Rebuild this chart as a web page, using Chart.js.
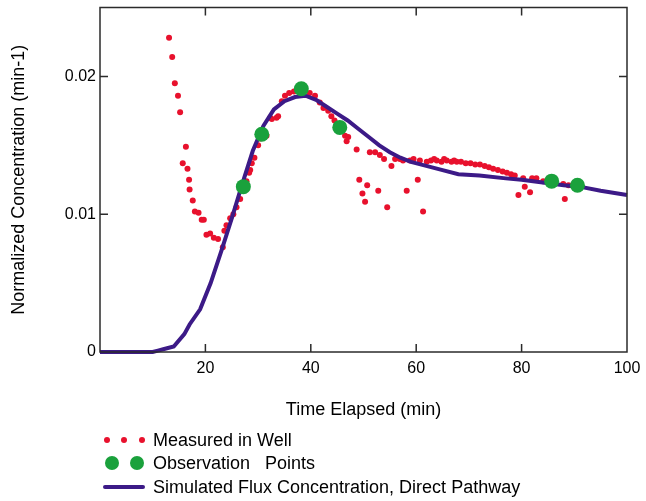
<!DOCTYPE html>
<html>
<head>
<meta charset="utf-8">
<script src="https://cdn.jsdelivr.net/npm/chart.js@4.4.1/dist/chart.umd.min.js"></script>
<style>
  body { margin: 0; background: #fff; font-family: "Liberation Sans", Arial, sans-serif; }
  #wrap { position: relative; width: 646px; height: 425px; }
  .leg { position: absolute; left: 0; top: 0; width: 646px; height: 501px; pointer-events: none; }
  .row { position: absolute; left: 153px; font-size: 18px; color: #000; white-space: pre; line-height: 22px; }
  .dot { position: absolute; border-radius: 50%; }
  .sm { width: 6px; height: 6px; background: #e8112d; }
  .big { width: 14px; height: 14px; background: #1aa13c; }
  .bar { position: absolute; height: 4px; background: #3c1a87; border-radius: 2px; }
</style>
</head>
<body>
<div id="wrap"><canvas id="grafico"></canvas></div>
<div class="leg">
  <span class="dot sm" style="left:104px;top:437px"></span>
  <span class="dot sm" style="left:121px;top:437px"></span>
  <span class="dot sm" style="left:139px;top:437px"></span>
  <div class="row" style="top:429px">Measured in Well</div>
  <span class="dot big" style="left:105px;top:456px"></span>
  <span class="dot big" style="left:130px;top:456px"></span>
  <div class="row" style="top:452px">Observation   Points</div>
  <span class="bar" style="left:103px;top:485px;width:42px"></span>
  <div class="row" style="top:476px">Simulated Flux Concentration, Direct Pathway</div>
</div>
<script>
// measured in well (red dots)
const medidoT = [13.1, 13.7, 14.2, 14.8, 15.2, 16.3, 15.7, 16.6, 16.9, 17.0, 17.6, 18.0, 18.7, 19.3, 19.7,
  20.2, 20.9, 21.6, 22.4, 23.3, 23.6, 24.0, 24.7, 25.3, 25.9, 26.6, 27.8, 28.3, 28.5, 28.8, 29.3,
  30.0, 30.4, 31.6, 32.3, 32.6, 33.5, 33.8, 34.5, 35.1, 35.9, 36.8, 37.5, 39.8, 40.8, 41.7, 42.4,
  43.3, 43.9, 44.5, 46.5, 46.8, 47.1, 48.7, 49.2, 49.8, 50.3, 50.7, 51.2, 52.2, 52.8, 53.1, 53.9,
  54.5, 55.3, 56.0, 56.9, 57.5, 58.2, 58.8, 59.5, 60.3, 60.7, 61.3, 62.0, 62.8, 63.4, 63.9, 64.8,
  65.3, 65.8, 66.7, 67.2, 67.7, 68.5, 69.4, 70.3, 71.2, 72.1, 73.0, 73.8, 74.6, 75.5, 76.4, 77.2,
  78.0, 78.7, 79.4, 80.3, 80.6, 81.6, 82.0, 82.8, 84.1, 86.0, 87.9, 88.2, 88.9];
const medidoC = [0.0228, 0.0214, 0.0195, 0.0186, 0.0174, 0.0149, 0.0137, 0.0133, 0.0125, 0.0118, 0.0110, 0.0102, 0.0101, 0.0096, 0.0096,
  0.0085, 0.0086, 0.0083, 0.0082, 0.0076, 0.0088, 0.0092, 0.0097, 0.0100, 0.0105, 0.0111, 0.0124, 0.0130, 0.0132, 0.0137, 0.0141,
  0.0150, 0.0155, 0.0157, 0.0170, 0.0169, 0.0170, 0.0171, 0.0182, 0.0186, 0.0188, 0.0189, 0.0190, 0.0188, 0.0186, 0.0181, 0.0177,
  0.0175, 0.0171, 0.0168, 0.0157, 0.0153, 0.0156, 0.0147, 0.0125, 0.0115, 0.0109, 0.0121, 0.0145, 0.0145, 0.0117, 0.0143, 0.0140,
  0.0105, 0.0135, 0.0140, 0.0140, 0.0139, 0.0117, 0.0139, 0.0140, 0.0125, 0.0139, 0.0102, 0.0138, 0.0139, 0.0140, 0.0139, 0.0138,
  0.0140, 0.0139, 0.0138, 0.0139, 0.0138, 0.0138, 0.0137, 0.0137, 0.0136, 0.0136, 0.0135, 0.0134, 0.0133, 0.0132, 0.0131, 0.0130,
  0.0129, 0.0128, 0.0114, 0.0126, 0.0120, 0.0116, 0.0126, 0.0126, 0.0124, 0.0123, 0.0122, 0.0111, 0.0121];

// observation points (green)
const obsT = [27.2, 30.7, 38.2, 45.5, 85.7, 90.6];
const obsC = [0.0120, 0.0158, 0.0191, 0.0163, 0.0124, 0.0121];

// simulated flux concentration (purple line)
const simT = [0, 10, 11, 12, 14, 16, 17, 19, 21, 23, 25, 27, 29, 31, 33, 35, 37, 39, 41, 43, 45, 47, 49,
  51, 53, 55, 57, 59, 61, 63, 65, 68, 72, 77, 80, 84, 88, 91, 95, 100];
const simC = [0, 0, 0.0001, 0.0002, 0.0004, 0.0013, 0.0020, 0.0031, 0.0050, 0.0073, 0.0097, 0.0122, 0.0146, 0.0164, 0.0176, 0.0182, 0.0185, 0.0186, 0.0183, 0.0178, 0.0173, 0.0168, 0.0162,
  0.0156, 0.0150, 0.0145, 0.0141, 0.0138, 0.0136, 0.0134, 0.0132, 0.0129, 0.0128, 0.0126, 0.0125, 0.0123, 0.0121, 0.0120, 0.0117, 0.0114];

const xTicks = [20, 40, 60, 80, 100];
const yTicks = [0, 0.01, 0.02];

const pares = (a, b) => a.map((v, i) => ({ x: v, y: b[i] }));

const marco = {
  id: 'marco',
  afterDatasetsDraw(chart) {
    const { ctx, chartArea: a, scales } = chart;
    ctx.save();
    ctx.strokeStyle = '#2b2b2b';
    ctx.lineWidth = 1.5;
    ctx.strokeRect(a.left, a.top, a.right - a.left, a.bottom - a.top);
    ctx.beginPath();
    xTicks.forEach(v => {
      if (v >= 100) return;
      const px = scales.x.getPixelForValue(v);
      ctx.moveTo(px, a.bottom); ctx.lineTo(px, a.bottom - 8);
      ctx.moveTo(px, a.top); ctx.lineTo(px, a.top + 8);
    });
    yTicks.forEach(v => {
      if (v <= 0) return;
      const py = scales.y.getPixelForValue(v);
      ctx.moveTo(a.left, py); ctx.lineTo(a.left + 8, py);
      ctx.moveTo(a.right, py); ctx.lineTo(a.right - 8, py);
    });
    ctx.stroke();
    ctx.restore();
  }
};

const fuenteTick = { family: '"Liberation Sans", Arial, sans-serif', size: 16 };
const fuenteTitulo = { family: '"Liberation Sans", Arial, sans-serif', size: 18 };

new Chart(document.getElementById('grafico'), {
  type: 'scatter',
  data: {
    datasets: [
      { label: 'Observation Points', data: pares(obsT, obsC), backgroundColor: '#1aa13c', borderWidth: 0, pointRadius: 7.5, order: 0 },
      { label: 'Simulated Flux Concentration, Direct Pathway', data: pares(simT, simC), showLine: true, borderColor: '#3c1a87',
        borderWidth: 4, pointRadius: 0, tension: 0, clip: false, order: 1 },
      { label: 'Measured in Well', data: pares(medidoT, medidoC), backgroundColor: '#e8112d', borderWidth: 0, pointRadius: 3, order: 2 }
    ]
  },
  options: {
    responsive: true,
    maintainAspectRatio: false,
    animation: false,
    layout: { padding: { top: 4, right: 19, left: 0, bottom: 0 } },
    plugins: { legend: { display: false }, tooltip: { enabled: false } },
    scales: {
      x: {
        type: 'linear', min: 0, max: 100,
        grid: { display: false, drawTicks: false },
        border: { display: false },
        afterBuildTicks: s => { s.ticks = xTicks.map(v => ({ value: v })); },
        afterFit: s => { s.height = 73; s.paddingLeft = 0; s.paddingRight = 0; },
        ticks: { padding: 7, color: '#000', font: fuenteTick, maxRotation: 0 },
        title: { display: true, text: 'Time Elapsed (min)', color: '#000', font: fuenteTitulo, padding: { top: 0, bottom: 4 } }
      },
      y: {
        type: 'linear', min: 0, max: 0.025,
        grid: { display: false, drawTicks: false },
        border: { display: false },
        afterBuildTicks: s => { s.ticks = yTicks.map(v => ({ value: v })); },
        afterFit: s => { s.width = 100; s.paddingTop = 0; s.paddingBottom = 0; },
        ticks: { padding: 4, color: '#000', font: fuenteTick, callback: v => String(+v.toFixed(3)) },
        title: { display: true, text: 'Normalized Concentration (min-1)', color: '#000', font: fuenteTitulo, padding: { top: 8, bottom: 0 } }
      }
    }
  },
  plugins: [marco]
});
</script>
</body>
</html>
